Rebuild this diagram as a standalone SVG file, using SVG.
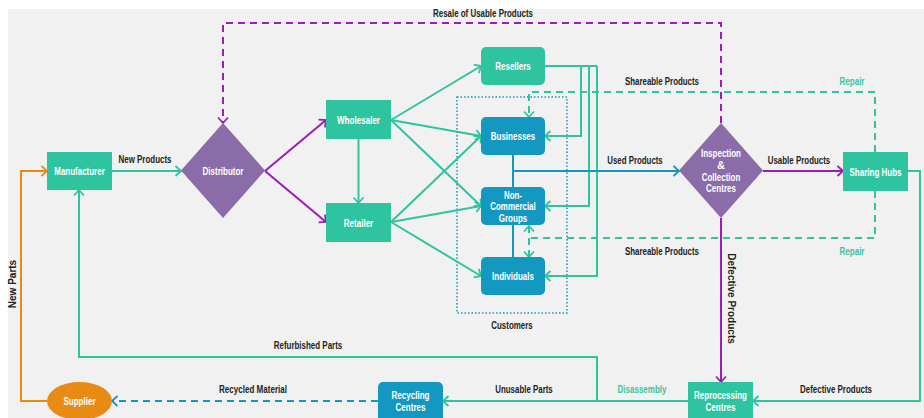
<svg xmlns="http://www.w3.org/2000/svg" width="924" height="418" viewBox="0 0 924 418">
<style>
.t{font-family:"Liberation Sans",Arial,sans-serif;font-size:10.5px;font-weight:bold;text-anchor:middle}
.nt{fill:#ffffff;font-size:11px}
.lb{fill:#222222}
.tl{fill:#3cc4a0}
.rt{font-family:"Liberation Sans",Arial,sans-serif;font-size:10px;font-weight:bold;text-anchor:middle;fill:#222222}
.teal{fill:#2ec4a0}
.blue{fill:#1398c2}
.purp{fill:#8a6ca8}
.orng{fill:#e88b15}
.c{fill:none;stroke-width:2}
.ct{stroke:#2ec4a0}
.cp{stroke:#9b1db5}
.cb{stroke:#1596c0}
.co{stroke:#e88b15}
.dash{stroke-dasharray:7,5}
</style>
<defs>
<marker id="at" markerUnits="userSpaceOnUse" markerWidth="10" markerHeight="12" viewBox="-7 -6 8 12" refX="0" refY="0" orient="auto"><path d="M-5.5,-5 L0,0 L-5.5,5" fill="none" stroke="#2ec4a0" stroke-width="1.8"/></marker>
<marker id="as" markerUnits="userSpaceOnUse" markerWidth="10" markerHeight="12" viewBox="-7 -6 8 12" refX="0" refY="0" orient="auto-start-reverse"><path d="M-5.5,-5 L0,0 L-5.5,5" fill="none" stroke="#2ec4a0" stroke-width="1.8"/></marker>
<marker id="ap" markerUnits="userSpaceOnUse" markerWidth="10" markerHeight="12" viewBox="-7 -6 8 12" refX="0" refY="0" orient="auto"><path d="M-5.5,-5 L0,0 L-5.5,5" fill="none" stroke="#9b1db5" stroke-width="1.8"/></marker>
<marker id="ab" markerUnits="userSpaceOnUse" markerWidth="10" markerHeight="12" viewBox="-7 -6 8 12" refX="0" refY="0" orient="auto"><path d="M-5.5,-5 L0,0 L-5.5,5" fill="none" stroke="#1596c0" stroke-width="1.8"/></marker>
<marker id="ao" markerUnits="userSpaceOnUse" markerWidth="10" markerHeight="12" viewBox="-7 -6 8 12" refX="0" refY="0" orient="auto"><path d="M-5.5,-5 L0,0 L-5.5,5" fill="none" stroke="#e88b15" stroke-width="1.8"/></marker>
</defs>
<rect x="0" y="0" width="924" height="418" fill="#ffffff"/>
<rect x="8" y="9" width="916" height="409" fill="#f1f1f1"/>

<g id="customers-group">
<rect x="457" y="97" width="110" height="216" fill="none" stroke="#1596c0" stroke-width="1.5" stroke-dasharray="1.5,2"/>
<text class="t lb" x="512" y="329" textLength="41.5" lengthAdjust="spacingAndGlyphs">Customers</text>
</g>

<g id="connectors">
<path class="c ct" d="M112,171 H181" marker-end="url(#at)"/>
<path class="c cp" d="M265,171 L326,120" marker-end="url(#ap)"/>
<path class="c cp" d="M265,171 L326,222" marker-end="url(#ap)"/>
<path class="c ct" d="M358.5,139 V203" marker-end="url(#at)"/>
<path class="c ct" d="M391,120 L481,66" marker-end="url(#at)"/>
<path class="c ct" d="M391,120 L481,136" marker-end="url(#at)"/>
<path class="c ct" d="M391,120 L481,206" marker-end="url(#at)"/>
<path class="c ct" d="M391,222 L481,136" marker-end="url(#at)"/>
<path class="c ct" d="M391,222 L481,206" marker-end="url(#at)"/>
<path class="c ct" d="M391,222 L481,276" marker-end="url(#at)"/>
<path class="c ct" d="M545,66 H597"/>
<path class="c ct" d="M581,66 V136 H545" marker-end="url(#at)"/>
<path class="c ct" d="M589,66 V206 H545" marker-end="url(#at)"/>
<path class="c ct" d="M597,66 V276 H545" marker-end="url(#at)"/>
<path class="c cb" d="M513,155 V187"/>
<path class="c cb" d="M513,225 V257"/>
<path class="c cb" stroke-width="2.5" d="M513,171 H679" marker-end="url(#ab)"/>
<path class="c cp" d="M763,171 H843" marker-end="url(#ap)"/>
<path class="c cp dash" d="M721,123 V23 H223 V123" marker-end="url(#ap)"/>
<path class="c cp" d="M721,218 V382" marker-end="url(#ap)"/>
<path class="c ct dash" d="M875,152 V92 H529 V117" marker-end="url(#at)"/>
<path class="c ct dash" d="M875,191 V238 H529"/>
<path class="c ct dash" d="M529,226 V257" marker-start="url(#as)" marker-end="url(#at)"/>
<path class="c ct" d="M908,171 H920 V401 H753" marker-end="url(#at)"/>
<path class="c ct" d="M688,401 H443" marker-end="url(#at)"/>
<path class="c ct" d="M597,401 V357 H79 V190" marker-end="url(#at)"/>
<path class="c cb dash" d="M378,401 H112" marker-end="url(#ab)"/>
<path class="c co" d="M47,401 H21 V171 H47" marker-end="url(#ao)"/>
</g>

<g id="labels">
<text class="t lb" x="483" y="17" textLength="100" lengthAdjust="spacingAndGlyphs">Resale of Usable Products</text>
<text class="t lb" x="145" y="163" textLength="53" lengthAdjust="spacingAndGlyphs">New Products</text>
<text class="t lb" x="662" y="85" textLength="74" lengthAdjust="spacingAndGlyphs">Shareable Products</text>
<text class="t tl" x="852" y="85" textLength="25" lengthAdjust="spacingAndGlyphs">Repair</text>
<text class="t lb" x="635" y="164" textLength="55.5" lengthAdjust="spacingAndGlyphs">Used Products</text>
<text class="t lb" x="799" y="164" textLength="62.5" lengthAdjust="spacingAndGlyphs">Usable Products</text>
<text class="t lb" x="662" y="255" textLength="74" lengthAdjust="spacingAndGlyphs">Shareable Products</text>
<text class="t tl" x="852" y="255" textLength="25" lengthAdjust="spacingAndGlyphs">Repair</text>
<text class="t lb" x="308" y="349" textLength="68.5" lengthAdjust="spacingAndGlyphs">Refurbished Parts</text>
<text class="t lb" x="253" y="393" textLength="68" lengthAdjust="spacingAndGlyphs">Recycled Material</text>
<text class="t lb" x="524" y="393" textLength="57.5" lengthAdjust="spacingAndGlyphs">Unusable Parts</text>
<text class="t tl" x="642" y="393" textLength="49" lengthAdjust="spacingAndGlyphs">Disassembly</text>
<text class="t lb" x="836" y="393" textLength="72" lengthAdjust="spacingAndGlyphs">Defective Products</text>
<text class="rt" transform="translate(727.5,298.5) rotate(90)">Defective Products</text>
<text class="rt" transform="translate(15.5,284) rotate(-90)">New Parts</text>
</g>

<g id="manufacturer"><rect class="teal" x="47" y="152" width="65" height="38"/><text class="t nt" x="79.5" y="175" textLength="50.5" lengthAdjust="spacingAndGlyphs">Manufacturer</text></g>
<g id="distributor"><polygon class="purp" points="223,123 265,170.5 223,218 181,170.5"/><text class="t nt" x="223" y="175" textLength="41" lengthAdjust="spacingAndGlyphs">Distributor</text></g>
<g id="wholesaler"><rect class="teal" x="326" y="100" width="65" height="39"/><text class="t nt" x="358.5" y="123.5" textLength="43" lengthAdjust="spacingAndGlyphs">Wholesaler</text></g>
<g id="retailer"><rect class="teal" x="326" y="203" width="65" height="39"/><text class="t nt" x="358.5" y="226.5" textLength="29.5" lengthAdjust="spacingAndGlyphs">Retailer</text></g>
<g id="resellers"><rect class="teal" x="481" y="47" width="64" height="38" rx="5"/><text class="t nt" x="513" y="70" textLength="35.5" lengthAdjust="spacingAndGlyphs">Resellers</text></g>
<g id="businesses"><rect class="blue" x="481" y="117" width="64" height="38" rx="5"/><text class="t nt" x="513" y="140" textLength="44.5" lengthAdjust="spacingAndGlyphs">Businesses</text></g>
<g id="non-commercial-groups"><rect class="blue" x="481" y="187" width="64" height="38" rx="5"/><text class="t nt" x="513" y="198.5" textLength="18" lengthAdjust="spacingAndGlyphs">Non-</text><text class="t nt" x="513" y="210" textLength="45.5" lengthAdjust="spacingAndGlyphs">Commercial</text><text class="t nt" x="513" y="221.5" textLength="28.5" lengthAdjust="spacingAndGlyphs">Groups</text></g>
<g id="individuals"><rect class="blue" x="481" y="257" width="64" height="38" rx="5"/><text class="t nt" x="513" y="280" textLength="42" lengthAdjust="spacingAndGlyphs">Individuals</text></g>
<g id="inspection"><polygon class="purp" points="721,123 763,170.5 721,218 679,170.5"/><text class="t nt" x="721" y="157" textLength="40" lengthAdjust="spacingAndGlyphs">Inspection</text><text class="t nt" x="721" y="168.5">&amp;</text><text class="t nt" x="721" y="180.5" textLength="38.5" lengthAdjust="spacingAndGlyphs">Collection</text><text class="t nt" x="721" y="192" textLength="30" lengthAdjust="spacingAndGlyphs">Centres</text></g>
<g id="sharing-hubs"><rect class="teal" x="843" y="152" width="65" height="39"/><text class="t nt" x="875.5" y="175.5" textLength="52" lengthAdjust="spacingAndGlyphs">Sharing Hubs</text></g>
<g id="supplier"><ellipse class="orng" cx="79.5" cy="401" rx="32.5" ry="19"/><text class="t nt" x="79.5" y="405" textLength="32" lengthAdjust="spacingAndGlyphs">Supplier</text></g>
<g id="recycling-centres"><rect class="blue" x="378" y="382" width="65" height="42" rx="5"/><text class="t nt" x="410.5" y="399" textLength="38" lengthAdjust="spacingAndGlyphs">Recycling</text><text class="t nt" x="410.5" y="411" textLength="30" lengthAdjust="spacingAndGlyphs">Centres</text></g>
<g id="reprocessing-centres"><rect class="teal" x="688" y="382" width="65" height="42"/><text class="t nt" x="720.5" y="399" textLength="53" lengthAdjust="spacingAndGlyphs">Reprocessing</text><text class="t nt" x="720.5" y="411" textLength="30" lengthAdjust="spacingAndGlyphs">Centres</text></g>
</svg>
